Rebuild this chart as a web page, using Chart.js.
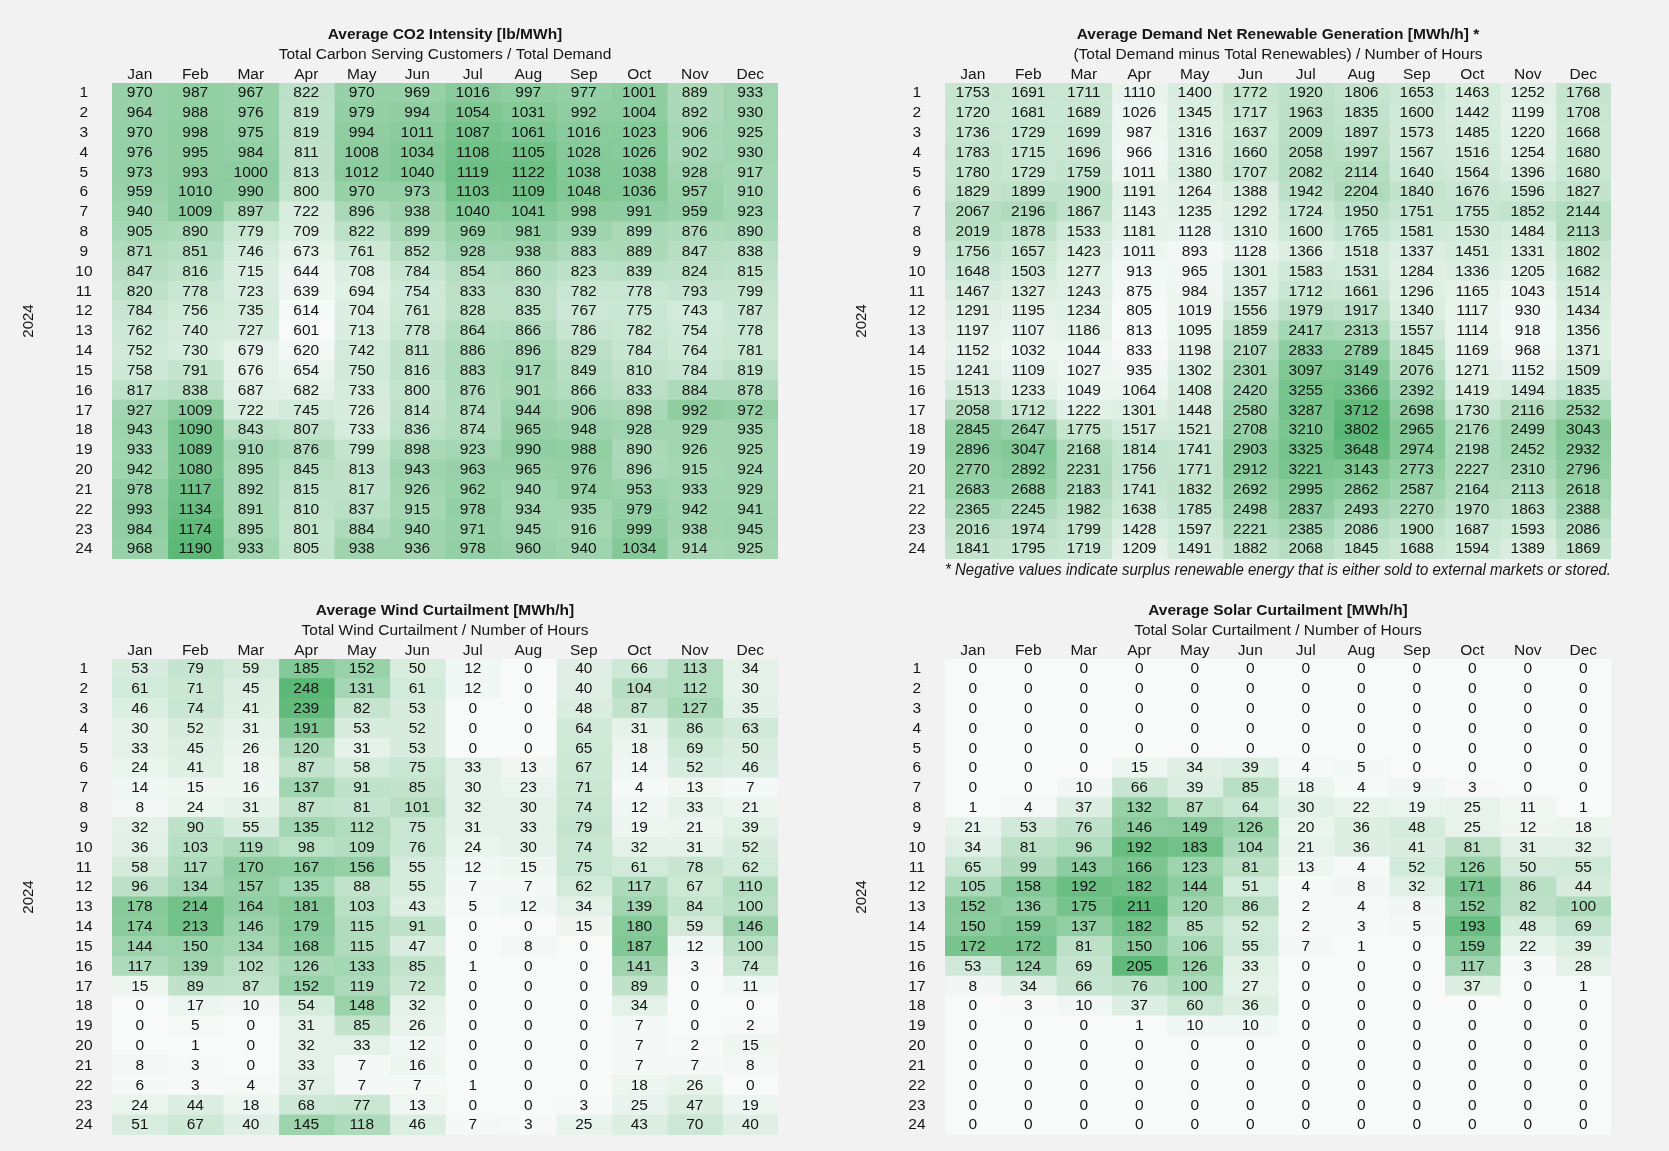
<!DOCTYPE html>
<html>
<head>
<meta charset="utf-8">
<script src="https://cdn.jsdelivr.net/npm/chart.js@4"></script>
<style>
  html, body { margin: 0; padding: 0; background: #f2f2f2; overflow: hidden; }
  canvas { position: absolute; }
</style>
</head>
<body>
<canvas id="co2Chart" width="830" height="575" style="left:0;top:0"></canvas>
<canvas id="demandChart" width="830" height="590" style="left:833px;top:0"></canvas>
<canvas id="windChart" width="830" height="575" style="left:0;top:576px"></canvas>
<canvas id="solarChart" width="830" height="575" style="left:833px;top:576px"></canvas>
<script>
var months = ['Jan', 'Feb', 'Mar', 'Apr', 'May', 'Jun', 'Jul', 'Aug', 'Sep', 'Oct', 'Nov', 'Dec'];
var hours = ['1', '2', '3', '4', '5', '6', '7', '8', '9', '10', '11', '12',
    '13', '14', '15', '16', '17', '18', '19', '20', '21', '22', '23', '24'];

// rows = hour of day, columns = month
var co2 = [
    [970, 987, 967, 822, 970, 969, 1016, 997, 977, 1001, 889, 933],
    [964, 988, 976, 819, 979, 994, 1054, 1031, 992, 1004, 892, 930],
    [970, 998, 975, 819, 994, 1011, 1087, 1061, 1016, 1023, 906, 925],
    [976, 995, 984, 811, 1008, 1034, 1108, 1105, 1028, 1026, 902, 930],
    [973, 993, 1000, 813, 1012, 1040, 1119, 1122, 1038, 1038, 928, 917],
    [959, 1010, 990, 800, 970, 973, 1103, 1109, 1048, 1036, 957, 910],
    [940, 1009, 897, 722, 896, 938, 1040, 1041, 998, 991, 959, 923],
    [905, 890, 779, 709, 822, 899, 969, 981, 939, 899, 876, 890],
    [871, 851, 746, 673, 761, 852, 928, 938, 883, 889, 847, 838],
    [847, 816, 715, 644, 708, 784, 854, 860, 823, 839, 824, 815],
    [820, 778, 723, 639, 694, 754, 833, 830, 782, 778, 793, 799],
    [784, 756, 735, 614, 704, 761, 828, 835, 767, 775, 743, 787],
    [762, 740, 727, 601, 713, 778, 864, 866, 786, 782, 754, 778],
    [752, 730, 679, 620, 742, 811, 886, 896, 829, 784, 764, 781],
    [758, 791, 676, 654, 750, 816, 883, 917, 849, 810, 784, 819],
    [817, 838, 687, 682, 733, 800, 876, 901, 866, 833, 884, 878],
    [927, 1009, 722, 745, 726, 814, 874, 944, 906, 898, 992, 972],
    [943, 1090, 843, 807, 733, 836, 874, 965, 948, 928, 929, 935],
    [933, 1089, 910, 876, 799, 898, 923, 990, 988, 890, 926, 925],
    [942, 1080, 895, 845, 813, 943, 963, 965, 976, 896, 915, 924],
    [978, 1117, 892, 815, 817, 926, 962, 940, 974, 953, 933, 929],
    [993, 1134, 891, 810, 837, 915, 978, 934, 935, 979, 942, 941],
    [984, 1174, 895, 801, 884, 940, 971, 945, 916, 999, 938, 945],
    [968, 1190, 933, 805, 938, 936, 978, 960, 940, 1034, 914, 925]
];

var demand = [
    [1753, 1691, 1711, 1110, 1400, 1772, 1920, 1806, 1653, 1463, 1252, 1768],
    [1720, 1681, 1689, 1026, 1345, 1717, 1963, 1835, 1600, 1442, 1199, 1708],
    [1736, 1729, 1699, 987, 1316, 1637, 2009, 1897, 1573, 1485, 1220, 1668],
    [1783, 1715, 1696, 966, 1316, 1660, 2058, 1997, 1567, 1516, 1254, 1680],
    [1780, 1729, 1759, 1011, 1380, 1707, 2082, 2114, 1640, 1564, 1396, 1680],
    [1829, 1899, 1900, 1191, 1264, 1388, 1942, 2204, 1840, 1676, 1596, 1827],
    [2067, 2196, 1867, 1143, 1235, 1292, 1724, 1950, 1751, 1755, 1852, 2144],
    [2019, 1878, 1533, 1181, 1128, 1310, 1600, 1765, 1581, 1530, 1484, 2113],
    [1756, 1657, 1423, 1011, 893, 1128, 1366, 1518, 1337, 1451, 1331, 1802],
    [1648, 1503, 1277, 913, 965, 1301, 1583, 1531, 1284, 1336, 1205, 1682],
    [1467, 1327, 1243, 875, 984, 1357, 1712, 1661, 1296, 1165, 1043, 1514],
    [1291, 1195, 1234, 805, 1019, 1556, 1979, 1917, 1340, 1117, 930, 1434],
    [1197, 1107, 1186, 813, 1095, 1859, 2417, 2313, 1557, 1114, 918, 1356],
    [1152, 1032, 1044, 833, 1198, 2107, 2833, 2789, 1845, 1169, 968, 1371],
    [1241, 1109, 1027, 935, 1302, 2301, 3097, 3149, 2076, 1271, 1152, 1509],
    [1513, 1233, 1049, 1064, 1408, 2420, 3255, 3366, 2392, 1419, 1494, 1835],
    [2058, 1712, 1222, 1301, 1448, 2580, 3287, 3712, 2698, 1730, 2116, 2532],
    [2845, 2647, 1775, 1517, 1521, 2708, 3210, 3802, 2965, 2176, 2499, 3043],
    [2896, 3047, 2168, 1814, 1741, 2903, 3325, 3648, 2974, 2198, 2452, 2932],
    [2770, 2892, 2231, 1756, 1771, 2912, 3221, 3143, 2773, 2227, 2310, 2796],
    [2683, 2688, 2183, 1741, 1832, 2692, 2995, 2862, 2587, 2164, 2113, 2618],
    [2365, 2245, 1982, 1638, 1785, 2498, 2837, 2493, 2270, 1970, 1863, 2388],
    [2016, 1974, 1799, 1428, 1597, 2221, 2385, 2086, 1900, 1687, 1593, 2086],
    [1841, 1795, 1719, 1209, 1491, 1882, 2068, 1845, 1688, 1594, 1389, 1869]
];

var wind = [
    [53, 79, 59, 185, 152, 50, 12, 0, 40, 66, 113, 34],
    [61, 71, 45, 248, 131, 61, 12, 0, 40, 104, 112, 30],
    [46, 74, 41, 239, 82, 53, 0, 0, 48, 87, 127, 35],
    [30, 52, 31, 191, 53, 52, 0, 0, 64, 31, 86, 63],
    [33, 45, 26, 120, 31, 53, 0, 0, 65, 18, 69, 50],
    [24, 41, 18, 87, 58, 75, 33, 13, 67, 14, 52, 46],
    [14, 15, 16, 137, 91, 85, 30, 23, 71, 4, 13, 7],
    [8, 24, 31, 87, 81, 101, 32, 30, 74, 12, 33, 21],
    [32, 90, 55, 135, 112, 75, 31, 33, 79, 19, 21, 39],
    [36, 103, 119, 98, 109, 76, 24, 30, 74, 32, 31, 52],
    [58, 117, 170, 167, 156, 55, 12, 15, 75, 61, 78, 62],
    [96, 134, 157, 135, 88, 55, 7, 7, 62, 117, 67, 110],
    [178, 214, 164, 181, 103, 43, 5, 12, 34, 139, 84, 100],
    [174, 213, 146, 179, 115, 91, 0, 0, 15, 180, 59, 146],
    [144, 150, 134, 168, 115, 47, 0, 8, 0, 187, 12, 100],
    [117, 139, 102, 126, 133, 85, 1, 0, 0, 141, 3, 74],
    [15, 89, 87, 152, 119, 72, 0, 0, 0, 89, 0, 11],
    [0, 17, 10, 54, 148, 32, 0, 0, 0, 34, 0, 0],
    [0, 5, 0, 31, 85, 26, 0, 0, 0, 7, 0, 2],
    [0, 1, 0, 32, 33, 12, 0, 0, 0, 7, 2, 15],
    [8, 3, 0, 33, 7, 16, 0, 0, 0, 7, 7, 8],
    [6, 3, 4, 37, 7, 7, 1, 0, 0, 18, 26, 0],
    [24, 44, 18, 68, 77, 13, 0, 0, 3, 25, 47, 19],
    [51, 67, 40, 145, 118, 46, 7, 3, 25, 43, 70, 40]
];

var solar = [
    [0, 0, 0, 0, 0, 0, 0, 0, 0, 0, 0, 0],
    [0, 0, 0, 0, 0, 0, 0, 0, 0, 0, 0, 0],
    [0, 0, 0, 0, 0, 0, 0, 0, 0, 0, 0, 0],
    [0, 0, 0, 0, 0, 0, 0, 0, 0, 0, 0, 0],
    [0, 0, 0, 0, 0, 0, 0, 0, 0, 0, 0, 0],
    [0, 0, 0, 15, 34, 39, 4, 5, 0, 0, 0, 0],
    [0, 0, 10, 66, 39, 85, 18, 4, 9, 3, 0, 0],
    [1, 4, 37, 132, 87, 64, 30, 22, 19, 25, 11, 1],
    [21, 53, 76, 146, 149, 126, 20, 36, 48, 25, 12, 18],
    [34, 81, 96, 192, 183, 104, 21, 36, 41, 81, 31, 32],
    [65, 99, 143, 166, 123, 81, 13, 4, 52, 126, 50, 55],
    [105, 158, 192, 182, 144, 51, 4, 8, 32, 171, 86, 44],
    [152, 136, 175, 211, 120, 86, 2, 4, 8, 152, 82, 100],
    [150, 159, 137, 182, 85, 52, 2, 3, 5, 193, 48, 69],
    [172, 172, 81, 150, 106, 55, 7, 1, 0, 159, 22, 39],
    [53, 124, 69, 205, 126, 33, 0, 0, 0, 117, 3, 28],
    [8, 34, 66, 76, 100, 27, 0, 0, 0, 37, 0, 1],
    [0, 3, 10, 37, 60, 36, 0, 0, 0, 0, 0, 0],
    [0, 0, 0, 1, 10, 10, 0, 0, 0, 0, 0, 0],
    [0, 0, 0, 0, 0, 0, 0, 0, 0, 0, 0, 0],
    [0, 0, 0, 0, 0, 0, 0, 0, 0, 0, 0, 0],
    [0, 0, 0, 0, 0, 0, 0, 0, 0, 0, 0, 0],
    [0, 0, 0, 0, 0, 0, 0, 0, 0, 0, 0, 0],
    [0, 0, 0, 0, 0, 0, 0, 0, 0, 0, 0, 0]
];

var FONT = "'Liberation Sans', Arial, sans-serif";
var TEXT = '#151515';
var SIZE = 15.5;
var lowColor = [248, 250, 250];
var highColor = [92, 184, 118];

function cellColor(v, min, max) {
    var t = max > min ? (v - min) / (max - min) : 0;
    var c = lowColor.map(function (a, i) { return Math.round(a + (highColor[i] - a) * t); });
    return 'rgb(' + c.join(',') + ')';
}

// writes the value in the middle of every cell
var cellLabels = {
    id: 'cellLabels',
    afterDatasetsDraw: function (chart) {
        var ctx = chart.ctx;
        ctx.save();
        ctx.font = SIZE + 'px ' + FONT;
        ctx.fillStyle = TEXT;
        ctx.textAlign = 'center';
        ctx.textBaseline = 'middle';
        chart.data.datasets.forEach(function (ds, m) {
            chart.getDatasetMeta(m).data.forEach(function (bar, h) {
                var p = bar.getProps(['x', 'y', 'base'], true);
                ctx.fillText(String(ds.values[h]), (p.x + p.base) / 2, p.y);
            });
        });
        ctx.restore();
    }
};

function makePanel(id, grid, title, subtitle, note) {
    var flat = [].concat.apply([], grid);
    var min = Math.min.apply(null, flat);
    var max = Math.max.apply(null, flat);
    var datasets = months.map(function (mon, m) {
        var col = grid.map(function (row) { return row[m]; });
        return {
            label: mon,
            values: col,
            data: col.map(function () { return [m, m + 1]; }),
            backgroundColor: col.map(function (v) { return cellColor(v, min, max); }),
            borderWidth: 0,
            grouped: false,
            barPercentage: 1,
            categoryPercentage: 1,
            inflateAmount: 0.6
        };
    });

    new Chart(document.getElementById(id), {
        type: 'bar',
        data: { labels: hours, datasets: datasets },
        plugins: [cellLabels],
        options: {
            indexAxis: 'y',
            responsive: false,
            animation: false,
            devicePixelRatio: 1,
            events: [],
            layout: { padding: { left: 0, right: 52, top: 0, bottom: note ? 15 : 16 } },
            plugins: {
                legend: { display: false },
                tooltip: { enabled: false },
                title: {
                    display: true,
                    text: title,
                    fullSize: false,
                    color: TEXT,
                    font: { family: FONT, size: SIZE, weight: 'bold' },
                    padding: { top: 25.7, bottom: 0 }
                },
                subtitle: {
                    display: true,
                    text: subtitle,
                    fullSize: false,
                    color: TEXT,
                    font: { family: FONT, size: SIZE },
                    padding: { top: 1.2, bottom: 0 }
                }
            },
            scales: {
                x: {
                    type: 'linear',
                    min: 0,
                    max: 12,
                    display: !!note,
                    grid: { display: false, drawTicks: false },
                    border: { display: false },
                    ticks: { display: false },
                    title: {
                        display: !!note,
                        text: note || '',
                        align: 'start',
                        color: TEXT,
                        font: { family: FONT, size: 16.3, style: 'italic', lineHeight: 0.6 },
                        padding: { top: 0, bottom: 0 }
                    },
                    afterFit: function (s) { if (note) { s.height = 16; } }
                },
                x2: {
                    type: 'category',
                    axis: 'x',
                    position: 'top',
                    labels: months,
                    offset: true,
                    grid: { display: false, drawTicks: false },
                    border: { display: false },
                    ticks: { color: TEXT, font: { family: FONT, size: SIZE, lineHeight: 1 }, padding: 0.5, maxRotation: 0, autoSkip: false },
                    afterFit: function (s) { s.height = 18.9; s.paddingLeft = 0; s.paddingRight = 0; }
                },
                y: {
                    type: 'category',
                    offset: true,
                    grid: { display: false, drawTicks: false },
                    border: { display: false },
                    ticks: { color: TEXT, font: { family: FONT, size: SIZE }, crossAlign: 'center', padding: 19.5, autoSkip: false },
                    title: {
                        display: true,
                        text: '2024',
                        color: TEXT,
                        font: { family: FONT, size: 15 },
                        padding: { top: 20, bottom: 0 }
                    },
                    afterFit: function (s) { s.width = 112; s.paddingTop = 0; s.paddingBottom = 0; }
                }
            }
        }
    });
}

makePanel('co2Chart', co2, 'Average CO2 Intensity [lb/MWh]',
    'Total Carbon Serving Customers / Total Demand');
makePanel('demandChart', demand, 'Average Demand Net Renewable Generation [MWh/h] *',
    '(Total Demand minus Total Renewables) / Number of Hours',
    '* Negative values indicate surplus renewable energy that is either sold to external markets or stored.');
makePanel('windChart', wind, 'Average Wind Curtailment [MWh/h]',
    'Total Wind Curtailment / Number of Hours');
makePanel('solarChart', solar, 'Average Solar Curtailment [MWh/h]',
    'Total Solar Curtailment / Number of Hours');
</script>
</body>
</html>
